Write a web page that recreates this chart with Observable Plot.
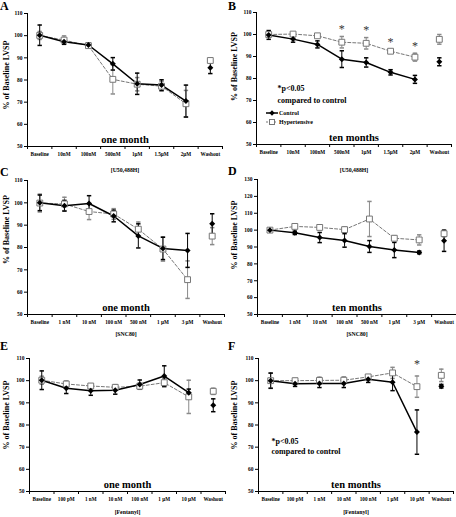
<!DOCTYPE html>
<html><head><meta charset="utf-8">
<script src="https://cdn.jsdelivr.net/npm/d3@7"></script>
<script src="https://cdn.jsdelivr.net/npm/@observablehq/plot@0.6"></script>
<style>
body{margin:0;background:#fff;}
#fig{position:relative;width:456px;height:517px;overflow:hidden;font-family:"Liberation Serif","Times New Roman",serif;font-weight:bold;background:#fff;}
.panel{position:absolute;}
.letter{position:absolute;font-size:12px;line-height:12px;font-weight:bold;font-family:"Liberation Serif",serif;}
</style></head><body><div id="fig"></div>
<script>
// ---- categories / tick labels ----
const catsU50 = ["Baseline","10nM","100nM","500nM","1µM","1.5µM","2µM","Washout"];
const catsSNC = ["Baseline","1 nM","10 nM","100 nM","500 nM","1 µM","3 µM","Washout"];
const catsFen = ["Baseline","100 pM","1 nM","10 nM","100 nM","1 µM","10 µM","Washout"];
const yTicks110 = [50,60,70,80,90,100,110];
const yTicks130 = [50,60,70,80,90,100,110,120,130];
const seriesNames = ["Control","Hypertensive"];

// ---- A: U50,488H one month ----
const aCtrl   = [100.2, 97.3, 95.8, 87.3, 78.3, 77.7, 70.5, 85.5];
const aCtrlSE = [4.6, 1.2, 1.0, 2.8, 4.8, 2.4, 7.2, 2.6];
const aHyp    = [100.1, 98.0, 95.5, 80.3, 78.1, 77.2, 69.3, 88.8];
const aHypSE  = [1.8, 1.9, 1.0, 6.6, 3.0, 2.2, 6.0, 0.9];
// ---- B: U50,488H ten months ----
const bCtrl   = [99.8, 97.9, 95.5, 88.8, 87.3, 82.8, 79.6, 87.6];
const bCtrlSE = [2.0, 1.4, 1.6, 3.8, 2.1, 1.2, 1.8, 1.8];
const bHyp    = [100.0, 100.2, 99.4, 96.5, 96.0, 92.4, 89.7, 97.8];
const bHypSE  = [1.0, 0.5, 0.6, 2.6, 2.6, 0.8, 1.8, 2.2];
const bSig    = ["500nM","1µM","1.5µM","2µM"];
// ---- C: SNC80 one month ----
const cCtrl   = [100.0, 98.7, 99.7, 94.1, 85.2, 79.6, 78.7, 90.6];
const cCtrlSE = [3.5, 2.4, 3.5, 2.6, 5.4, 5.0, 7.6, 4.5];
const cHyp    = [99.9, 99.5, 96.1, 95.0, 88.2, 79.3, 65.6, 85.1];
const cHypSE  = [4.0, 3.0, 3.6, 2.4, 3.2, 5.4, 8.4, 3.8];
// ---- D: SNC80 ten months ----
const dCtrl   = [100.0, 98.4, 95.6, 93.9, 90.3, 88.2, 86.8, 93.7];
const dCtrlSE = [0.6, 1.0, 3.0, 4.0, 3.5, 4.5, 0.8, 6.3];
const dHyp    = [100.0, 102.2, 101.6, 100.3, 106.6, 95.2, 94.2, 97.9];
const dHypSE  = [0.6, 0.8, 0.8, 1.6, 10.4, 1.5, 3.0, 1.8];
// ---- E: Fentanyl one month ----
const eCtrl   = [100.2, 96.6, 95.4, 95.7, 98.3, 102.1, 94.6, 88.9];
const eCtrlSE = [4.2, 2.4, 2.0, 1.8, 2.0, 4.6, 1.6, 2.9];
const eHyp    = [100.2, 98.5, 97.6, 97.0, 97.5, 99.1, 92.7, 95.2];
const eHypSE  = [1.8, 1.4, 1.0, 1.2, 1.4, 2.0, 7.5, 1.4];
// ---- F: Fentanyl ten months ----
const fCtrl   = [100.0, 98.6, 98.7, 98.7, 100.6, 99.3, 76.8, 97.5];
const fCtrlSE = [3.4, 1.2, 1.8, 1.8, 1.4, 3.8, 10.0, 0.8];
const fHyp    = [100.0, 100.0, 100.1, 100.2, 101.7, 103.5, 97.3, 102.4];
const fHypSE  = [3.5, 1.0, 1.5, 1.5, 1.0, 2.5, 4.8, 2.8];
const fSig    = ["10 µM"];

const yLabel = "% of Baseline LVSP";
const noteText = "*p<0.05\ncompared to control";

const panels = [
  {letter:"A", left:0,   top:0,   w:228, h:176, mt:13, mb:30, ml:27, mr:6, cats:catsU50, yTicks:yTicks110, ctrl:aCtrl, ctrlSE:aCtrlSE, hyp:aHyp, hypSE:aHypSE, sig:[], title:"one month", xlab:"[U50,488H]", xlabDy:24, ylabDy:-5, lx:0, ly:0},
  {letter:"B", left:228, top:0,   w:228, h:176, mt:12, mb:32, ml:28, mr:5, cats:catsU50, yTicks:yTicks110, ctrl:bCtrl, ctrlSE:bCtrlSE, hyp:bHyp, hypSE:bHypSE, sig:bSig, starDy:-7, title:"ten months", xlab:"[U50,488H]", xlabDy:26, ylabDy:-12, note:noteText, noteDx:21, noteDy:70, noteLH:1.5, legend:true, lx:228, ly:0},
  {letter:"C", left:0,   top:170, w:228, h:170, mt:10, mb:26, ml:27, mr:4, cats:catsSNC, yTicks:yTicks110, ctrl:cCtrl, ctrlSE:cCtrlSE, hyp:cHyp, hypSE:cHypSE, sig:[], title:"one month", xlab:"[SNC80]", xlabDy:20, ylabDy:-18, lx:0, ly:166},
  {letter:"D", left:228, top:170, w:228, h:170, mt:9,  mb:26, ml:29, mr:0, cats:catsSNC, yTicks:yTicks130, ctrl:dCtrl, ctrlSE:dCtrlSE, hyp:dHyp, hypSE:dHypSE, sig:[], title:"ten months", xlab:"[SNC80]", xlabDy:20, ylabDy:-12, lx:228, ly:165},
  {letter:"E", left:0,   top:340, w:228, h:177, mt:18, mb:26, ml:29, mr:3, cats:catsFen, yTicks:yTicks110, ctrl:eCtrl, ctrlSE:eCtrlSE, hyp:eHyp, hypSE:eHypSE, sig:[], title:"one month", xlab:"[Fentanyl]", xlabDy:21, ylabDy:-10, lx:0, ly:340},
  {letter:"F", left:228, top:340, w:228, h:177, mt:18, mb:26, ml:30, mr:3, cats:catsFen, yTicks:yTicks110, ctrl:fCtrl, ctrlSE:fCtrlSE, hyp:fHyp, hypSE:fHypSE, sig:fSig, starDy:-12, title:"ten months", xlab:"[Fentanyl]", xlabDy:21, ylabDy:-10, note:noteText, noteDx:13, noteDy:78, noteLH:1.25, lx:228, ly:340}
];

const ctrlColor = "#000", hypColor = "#777", hypBar = "#8a8a8a";
const capSymbol = {draw(ctx, size){ const w = Math.sqrt(size/Math.PI); ctx.moveTo(-w,0); ctx.lineTo(w,0); }};

const fig = d3.select("#fig");

function makePanel(cfg){
  const n = cfg.cats.length;
  const idx = d3.range(n);
  const rows = idx.map(i => ({i, c: cfg.ctrl[i], ce: cfg.ctrlSE[i], h: cfg.hyp[i], he: cfg.hypSE[i]}));
  const doseRows = rows.filter(d => cfg.cats[d.i] !== "Washout");
  const sigRows = rows.filter(d => cfg.sig.includes(cfg.cats[d.i]));
  const yMin = d3.min(cfg.yTicks), yMax = d3.max(cfg.yTicks);
  const bounds = d3.range(n + 1).map(k => k - 0.5);
  const marks = [
    Plot.axisY({ticks: cfg.yTicks, tickSize: 3, tickPadding: 2, fontSize: 5.5, label: null}),
    Plot.axisX({ticks: bounds, tickSize: 3, tickFormat: () => "", label: null}),
    Plot.axisX({ticks: idx, tickSize: 0, tickPadding: 6, tickFormat: i => cfg.cats[i], fontSize: 5.2, label: null}),
    Plot.ruleY([yMin], {stroke: "#000"}),
    Plot.ruleX([bounds[0]], {stroke: "#000"}),
    // hypertensive error bars
    Plot.ruleX(rows, {x: "i", y1: d => d.h - d.he, y2: d => d.h + d.he, stroke: hypBar}),
    Plot.dot(rows, {x: "i", y: d => d.h + d.he, symbol: capSymbol, r: 2.2, stroke: hypBar, fill: "none"}),
    Plot.dot(rows, {x: "i", y: d => d.h - d.he, symbol: capSymbol, r: 2.2, stroke: hypBar, fill: "none"}),
    Plot.line(doseRows, {x: "i", y: "h", stroke: hypColor, strokeWidth: 1, strokeDasharray: "3,2"}),
    // control error bars
    Plot.ruleX(rows, {x: "i", y1: d => d.c - d.ce, y2: d => d.c + d.ce, stroke: ctrlColor}),
    Plot.dot(rows, {x: "i", y: d => d.c + d.ce, symbol: capSymbol, r: 2.2, stroke: ctrlColor, fill: "none"}),
    Plot.dot(rows, {x: "i", y: d => d.c - d.ce, symbol: capSymbol, r: 2.2, stroke: ctrlColor, fill: "none"}),
    Plot.line(doseRows, {x: "i", y: "c", stroke: ctrlColor, strokeWidth: 1.5}),
    Plot.dot(rows, {x: "i", y: "h", symbol: "square", r: 3.3, fill: "#fff", stroke: hypColor, strokeWidth: 1}),
    Plot.dot(rows, {x: "i", y: "c", symbol: "diamond2", r: 2.7, fill: ctrlColor, stroke: "none"}),
    Plot.text(sigRows, {x: "i", y: d => d.h + d.he, text: () => "*", dy: cfg.starDy || 0, fontSize: 12, fontWeight: "normal", fill: "#333", lineAnchor: "middle"}),
    Plot.text([cfg.title], {text: d => d, frameAnchor: "bottom", dy: -7, lineAnchor: "middle", textAnchor: "middle", fontSize: 10.5}),
    Plot.text([cfg.xlab], {text: d => d, frameAnchor: "bottom", dy: cfg.xlabDy, lineAnchor: "middle", textAnchor: "middle", fontSize: 5.8}),
    Plot.text([yLabel], {text: d => d, frameAnchor: "left", rotate: -90, dx: 6 - cfg.ml, dy: cfg.ylabDy, lineAnchor: "middle", textAnchor: "middle", fontSize: 8})
  ];
  if (cfg.note) {
    marks.push(Plot.text([cfg.note], {text: d => d, frameAnchor: "top-left", dx: cfg.noteDx, dy: cfg.noteDy, textAnchor: "start", lineAnchor: "top", lineHeight: cfg.noteLH, fontSize: 8}));
  }
  const svg = Plot.plot({
    width: cfg.w, height: cfg.h,
    marginTop: cfg.mt, marginBottom: cfg.mb, marginLeft: cfg.ml, marginRight: cfg.mr,
    style: {fontFamily: '"Liberation Serif", "Times New Roman", serif', fontWeight: "bold", fontSize: "5px", background: "transparent", overflow: "visible", color: "#000"},
    x: {type: "linear", domain: [bounds[0], bounds[n]]},
    y: {type: "linear", domain: [yMin, yMax]},
    marks
  });
  const wrap = fig.append("div").attr("class", "panel").style("left", cfg.left + "px").style("top", cfg.top + "px");
  wrap.node().appendChild(svg);
  fig.append("div").attr("class", "letter").style("left", cfg.lx + "px").style("top", cfg.ly + "px").text(cfg.letter);

  if (cfg.legend) {
    const lg = fig.append("svg").attr("width", 70).attr("height", 22)
      .style("position", "absolute").style("left", (cfg.left + cfg.ml + 8) + "px").style("top", (cfg.top + cfg.mt + 95) + "px")
      .style("font-family", '"Liberation Serif", serif').style("font-weight", "bold").style("font-size", "6px");
    seriesNames.forEach((name, k) => {
      const yy = 6 + k * 9;
      const g = lg.append("g");
      if (k === 0) {
        g.append("line").attr("x1", 2).attr("x2", 14).attr("y1", yy).attr("y2", yy).attr("stroke", ctrlColor).attr("stroke-width", 1.5);
        g.append("path").attr("d", d3.symbol(d3.symbolDiamond2, 18)()).attr("transform", `translate(8,${yy})`).attr("fill", ctrlColor);
      } else {
        g.append("line").attr("x1", 2).attr("x2", 14).attr("y1", yy).attr("y2", yy).attr("stroke", hypColor).attr("stroke-dasharray", "2,2");
        g.append("rect").attr("x", 5.5).attr("y", yy - 2.5).attr("width", 5).attr("height", 5).attr("fill", "#fff").attr("stroke", hypColor);
      }
      g.append("text").attr("x", 15).attr("y", yy + 2).text(name);
    });
  }
}

panels.forEach(makePanel);
</script>
</body></html>
